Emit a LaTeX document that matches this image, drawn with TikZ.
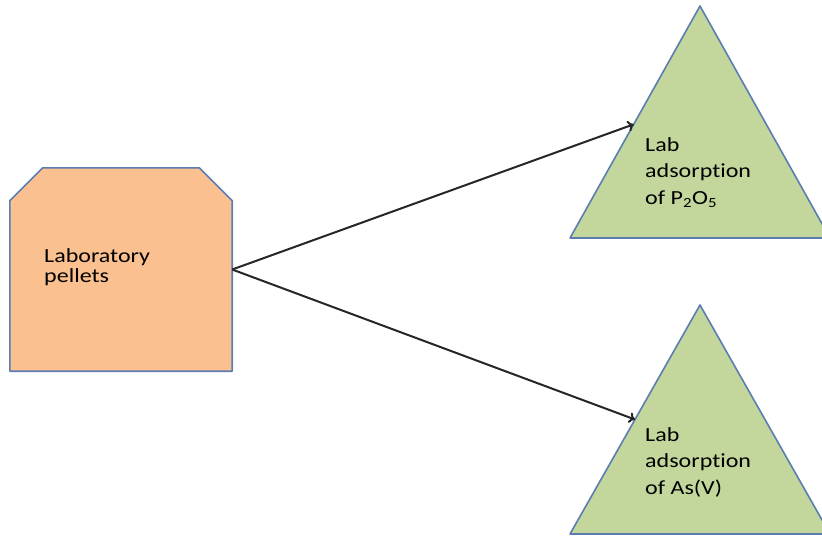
\documentclass[tikz,border=0pt]{standalone}
\usepackage{fontspec}
\setmainfont{Carlito}[RawFeature={-liga}]
\usetikzlibrary{calc,arrows.meta}

\definecolor{pelletfill}{HTML}{FAC08F}
\definecolor{adsfill}{HTML}{C3D69B}
\definecolor{shapeline}{HTML}{5B7DB1}

\begin{document}
\begin{tikzpicture}[x=1pt,y=-1pt,
    pellet/.style ={rectangle, inner sep=0pt, minimum width=222pt, minimum height=203pt},
    outline/.style ={draw=shapeline, line width=1.6pt, line join=round},
    label/.style ={anchor=north west, inner sep=0pt, align=left, xscale=1.2,
      font=\fontsize{20}{26.5}\selectfont},
    flow/.style ={line width=2pt, draw=black!85, -{To[length=6pt,width=11pt]}}]
   \useasboundingbox (0,0) rectangle (822,536);
   \node[pellet] (pellets) at (121,269.5) {};
   \draw[outline, fill=pelletfill] (pellets.south west) -- ($(pellets.north west)+(0,33)$)
     -- ($(pellets.north west)+(33,0)$) -- ($(pellets.north east)+(-33,0)$)
     -- ($(pellets.north east)+(0,33)$) -- (pellets.south east) -- cycle;
   \node[label, font=\fontsize{20}{20}\selectfont] (pellettext) at (44,248) {Laboratory\\pellets};
   % top triangle
   \draw[outline, fill=adsfill] (700,6) coordinate (ptop) -- (570,238) coordinate (pleft) -- (830,238) -- cycle;
   \node[label] (ptext) at (645,137) {Lab\\adsorption\\of P\textsubscript{2}O\textsubscript{5}};
   % bottom triangle
   \draw[outline, fill=adsfill] (700,305) coordinate (astop) -- (570,534) coordinate (asleft) -- (830,534) -- cycle;
   \node[label] (astext) at (645,427) {Lab\\adsorption\\of As(V)};
   \coordinate (pin) at ($(ptop)!0.51!(pleft)$);
   \coordinate (asin) at ($(astop)!0.5!(asleft)$);
   \draw[flow] (pellets.east) -- (pin);
   \draw[flow] (pellets.east) -- (asin);
\end{tikzpicture}
\end{document}
